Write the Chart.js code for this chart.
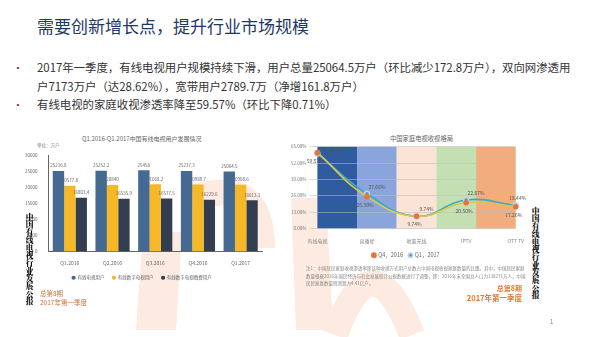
<!DOCTYPE html>
<html lang="zh">
<head>
    <meta charset="UTF-8">
    <title>有线电视用户发展情况</title>
    <script src="https://cdn.jsdelivr.net/npm/chart.js@4.4.1/dist/chart.umd.min.js"></script>
    <style>
        body {
            margin: 0;
            width: 600px;
            height: 337px;
            background: #ffffff;
            position: relative;
            overflow: hidden;
            font-family: "Noto Sans CJK SC", "Noto Sans", sans-serif;
        }
        .abs { position: absolute; white-space: nowrap; }
        .title {
            left: 37px; top: 13px;
            font-size: 17px;
            color: #1f3864;
        }
        .bullet {
            left: 37px;
            font-size: 11.4px;
            color: #333;
        }
        .dot {
            left: 13px;
            font-size: 10px;
            color: #c00000;
        }
        .chart-title { font-size: 6px; color: #666; }
        .vert {
            writing-mode: vertical-rl;
            font-size: 7.7px;
            font-weight: 900;
            color: #111;
            letter-spacing: 0px;
            font-family: "Noto Serif CJK SC", "Noto Sans CJK SC", serif;
        }
        .note {
            left: 306px; top: 265px;
            width: 222px;
            font-size: 4.5px;
            line-height: 7.5px;
            color: #888;
            white-space: normal;
        }
        .box { position: absolute; }
    </style>
</head>
<body>
    <!-- faded background shapes -->
    <svg class="abs" style="left:0;top:0" width="600" height="337">
        <g fill="none" stroke="#fdeae0" stroke-width="26">
            <path d="M 188 200 Q 262 172 262 248"/>
            <path d="M 335 335 Q 372 232 412 335"/>
        </g>
        <g fill="#fdeae0">
            <polygon points="143,232 182,232 176,330 136,330"/>
            <polygon points="291,198 326,198 333,330 296,330"/>
        </g>
    </svg>

    <div class="abs title">需要创新增长点，提升行业市场规模</div>
    <div class="abs dot" style="top:60px">•</div>
    <div class="abs bullet" style="top:59px">2017年一季度，有线电视用户规模持续下滑，用户总量25064.5万户（环比减少172.8万户），双向网渗透用</div>
    <div class="abs bullet" style="top:78px">户7173万户（达28.62%），宽带用户2789.7万（净增161.8万户）</div>
    <div class="abs dot" style="top:97px">•</div>
    <div class="abs bullet" style="top:96px">有线电视的家庭收视渗透率降至59.57%（环比下降0.71%）</div>

    <div class="abs chart-title" style="left:82px;top:134px">Q1.2016-Q1.2017中国有线电视用户发展情况</div>
    <div class="abs" style="left:37px;top:142px;font-size:4.5px;color:#777">单位：万户</div>
    <div class="box" style="left:18px;top:150px;width:250px;height:140px">
        <canvas id="barChart"></canvas>
    </div>

    <div class="abs chart-title" style="left:390px;top:134px;font-size:6.3px">中国家庭电视收视格局</div>
    <div class="box" style="left:284px;top:141px;width:242px;height:127px">
        <canvas id="lineChart"></canvas>
    </div>

    <div class="abs note">注1：中国居民家庭收视渗透率即该种收视方式用户总数占中国电视收视家庭数量的比重。其中，中国居民家庭数量根据2016年国民经济与社会发展统计公报数据进行了调整，即：2016年末全国总人口为138271万人，中国居民家庭数量则测算为4.41亿户。</div>

    <div class="abs vert" style="left:24px;top:213px">中国有线电视行业发展公报</div>
    <div class="abs vert" style="left:530px;top:207px">中国有线电视行业发展公报</div>

    <div class="abs" style="left:40px;top:288px;font-size:6.5px;color:#c8733f">总第8期</div>
    <div class="abs" style="left:40px;top:297px;font-size:6.5px;color:#c8733f">2017年第一季度</div>
    <div class="abs" style="right:78px;top:283px;font-size:7px;color:#e07b3a;font-weight:bold">总第8期</div>
    <div class="abs" style="right:78px;top:292px;font-size:7.5px;color:#e07b3a;font-weight:bold">2017年第一季度</div>
    <div class="abs" style="left:550px;top:317px;font-size:6px;color:#888">1</div>

    <script>
        // bar chart data
        const quarters = ['Q1.2016', 'Q2.2016', 'Q3.2016', 'Q4.2016', 'Q1.2017'];
        const cableUsers = [25216.8, 25252.2, 25458, 25237.3, 25064.5];
        const digitalUsers = [20577.8, 20840, 21068.2, 20989.7, 20908.6];
        const paidUsers = [16803.4, 16535.9, 16577.5, 16229.6, 16013.1];

        // line chart data
        const platforms = ['有线电视', '直播星', '地面无线', 'IPTV', 'OTT TV'];
        const q4_2016 = [60.28, 25.30, 9.74, 20.50, 17.26];
        const q1_2017 = [59.57, 27.66, 9.74, 22.67, 18.44];
        const bandColors = ['#2e5c9e', '#8aa5dc', '#fbe4d6', '#c4e0b2', '#f2ad7e'];

        Chart.defaults.font.family = '"Noto Sans CJK SC", "Noto Sans", sans-serif';
        Chart.defaults.color = '#666';

        // values above bars
        const barLabels = {
            id: 'barLabels',
            afterDatasetsDraw(chart) {
                const ctx = chart.ctx;
                ctx.save();
                ctx.font = '4.5px "Noto Sans CJK SC", sans-serif';
                ctx.fillStyle = '#666';
                ctx.textAlign = 'center';
                ctx.textBaseline = 'bottom';
                chart.data.datasets.forEach((ds, i) => {
                    chart.getDatasetMeta(i).data.forEach((bar, j) => {
                        ctx.fillText(ds.data[j], bar.x, bar.y - 3);
                    });
                });
                ctx.restore();
            }
        };

        new Chart(document.getElementById('barChart'), {
            type: 'bar',
            data: {
                labels: quarters,
                datasets: [
                    { label: '有线电视用户', data: cableUsers, backgroundColor: '#456990' },
                    { label: '有线数字电视用户', data: digitalUsers, backgroundColor: '#f6b826' },
                    { label: '有线数字电视缴费用户', data: paidUsers, backgroundColor: '#323e4f' }
                ]
            },
            options: {
                responsive: true,
                maintainAspectRatio: false,
                animation: false,
                datasets: { bar: { categoryPercentage: 0.8, barPercentage: 1.0 } },
                layout: { padding: { top: 2, right: 6, left: 4 } },
                scales: {
                    x: {
                        grid: { display: false },
                        border: { color: '#666' },
                        ticks: { font: { size: 5 }, color: '#666', padding: 1 }
                    },
                    y: {
                        min: 0, max: 30000,
                        grid: { display: false },
                        border: { color: '#666' },
                        ticks: {
                            stepSize: 5000, font: { size: 4.5 }, color: '#666',
                            callback: v => String(v)
                        }
                    }
                },
                plugins: {
                    legend: {
                        position: 'bottom',
                        labels: {
                            usePointStyle: true, pointStyle: 'circle',
                            boxWidth: 3, boxHeight: 3, padding: 8,
                            font: { size: 4.5 }, color: '#666'
                        }
                    },
                    tooltip: { enabled: false }
                }
            },
            plugins: [barLabels]
        });

        // coloured column behind each category
        const bands = {
            id: 'bands',
            beforeDraw(chart) {
                const a = chart.chartArea;
                const ctx = chart.ctx;
                const w = a.width / platforms.length;
                ctx.save();
                bandColors.forEach((c, i) => {
                    ctx.fillStyle = c;
                    ctx.fillRect(a.left + i * w, a.top, w, a.bottom - a.top);
                });
                ctx.restore();
            }
        };

        // higher value labelled above, lower below
        const pctLabels = {
            id: 'pctLabels',
            afterDatasetsDraw(chart) {
                const ctx = chart.ctx;
                const d0 = chart.data.datasets[0].data;
                const d1 = chart.data.datasets[1].data;
                const last = platforms.length - 1;
                ctx.save();
                ctx.font = '5px "Noto Sans CJK SC", sans-serif';
                ctx.fillStyle = '#555';
                ctx.textAlign = 'center';
                ctx.textBaseline = 'middle';
                [0, 1].forEach(i => {
                    chart.getDatasetMeta(i).data.forEach((pt, j) => {
                        const v = chart.data.datasets[i].data[j];
                        const up = i === 0 ? d0[j] > d1[j] : d1[j] >= d0[j];
                        const txt = v.toFixed(2) + '%';
                        if (up) {
                            const dx = j === 0 ? 20 : (j === last ? 2 : 10);
                            ctx.fillText(txt, pt.x + dx, pt.y - (j === 0 ? 3 : 7));
                        } else {
                            ctx.fillText(txt, pt.x - 2, pt.y + 8);
                        }
                    });
                });
                ctx.restore();
            }
        };

        new Chart(document.getElementById('lineChart'), {
            type: 'line',
            data: {
                labels: platforms,
                datasets: [
                    {
                        label: 'Q4，2016', data: q4_2016,
                        borderColor: '#d9c84a', backgroundColor: '#e8743c',
                        pointBackgroundColor: '#e8743c', pointBorderColor: '#e8743c',
                        borderWidth: 1.6, pointRadius: 2, tension: 0.45
                    },
                    {
                        label: 'Q1，2017', data: q1_2017,
                        borderColor: '#3aaac8', backgroundColor: '#5b8fd6',
                        pointBackgroundColor: '#5b8fd6', pointBorderColor: '#bcd3f0',
                        borderWidth: 1.6, pointRadius: 2.4, tension: 0.45
                    }
                ]
            },
            options: {
                responsive: true,
                maintainAspectRatio: false,
                animation: false,
                layout: { padding: { top: 4, right: 2, left: 4 } },
                scales: {
                    x: {
                        grid: { display: false },
                        border: { display: false },
                        ticks: { font: { size: 5 }, color: '#888', padding: 2 }
                    },
                    y: {
                        min: 0, max: 65,
                        grid: { color: 'rgba(190,190,190,0.55)' },
                        border: { display: false },
                        ticks: {
                            stepSize: 13, font: { size: 4.5 }, color: '#777',
                            callback: v => v.toFixed(2) + '%'
                        }
                    }
                },
                plugins: {
                    legend: {
                        position: 'bottom',
                        labels: {
                            usePointStyle: true, pointStyle: 'circle',
                            boxWidth: 3, boxHeight: 3, padding: 6,
                            font: { size: 5.5 }, color: '#666'
                        }
                    },
                    tooltip: { enabled: false }
                }
            },
            plugins: [bands, pctLabels]
        });
    </script>
</body>
</html>
